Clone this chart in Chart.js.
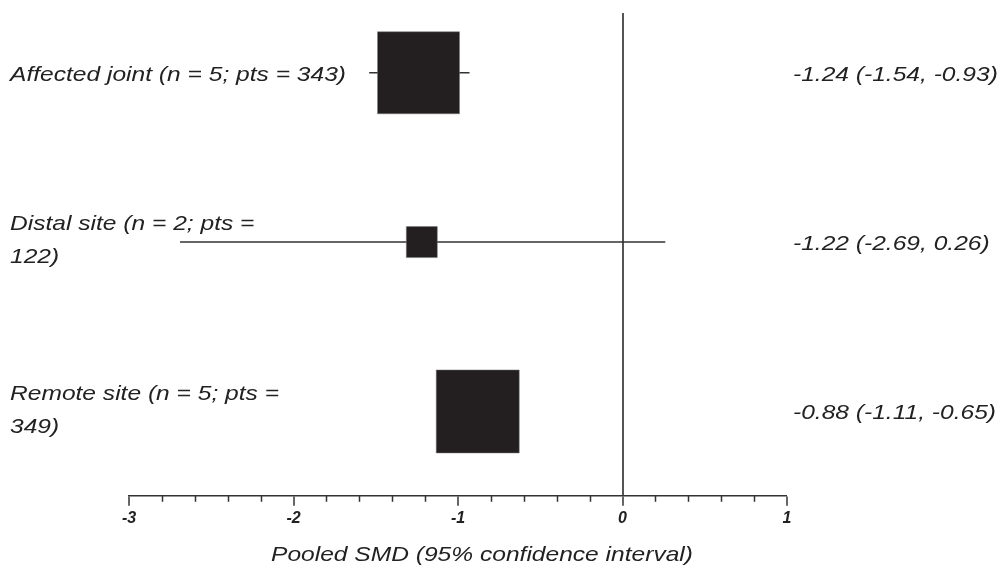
<!DOCTYPE html>
<html>
<head>
<meta charset="utf-8">
<script src="https://cdn.jsdelivr.net/npm/chart.js@4/dist/chart.umd.min.js"></script>
<style>
    html, body { margin: 0; padding: 0; background: #fff; }
    #wrap { width: 1003px; height: 568px; }
</style>
</head>
<body>
<div id="wrap"><canvas id="forestChart"></canvas></div>
<script>
// rows, top to bottom
const categories = [
    ['Affected joint (n = 5; pts = 343)'],
    ['Distal site (n = 2; pts =', '122)'],
    ['Remote site (n = 5; pts =', '349)']
];
const smd   = [-1.24, -1.22, -0.88];
const lower = [-1.54, -2.69, -1.11];
const upper = [-0.93, 0.26, -0.65];
const tickLabels = [-3, -2, -1, 0, 1];
const axisTitle = 'Pooled SMD (95% confidence interval)';

// box side in px (style only)
const boxSide = [82, 31, 83];

const ink = '#231f20';
const textFont = '"Liberation Sans", Arial, sans-serif';
const stretch = 1.17; // the original text is a bit wide

function rowY(i) {
    return categories.length - i;
}

// point datasets for the squares
const boxData = smd.map(function (v, i) { return { x: v, y: rowY(i) }; });

// one line dataset per confidence interval
const ciSets = lower.map(function (lo, i) {
    return {
        type: 'line',
        data: [{ x: lo, y: rowY(i) }, { x: upper[i], y: rowY(i) }],
        borderColor: '#333',
        borderWidth: 1.5,
        pointRadius: 0,
        order: 2
    };
});

function wideText(ctx, t, x, y, align) {
    ctx.save();
    ctx.translate(x, y);
    ctx.scale(stretch, 1);
    ctx.textAlign = align;
    ctx.fillText(t, 0, 0);
    ctx.restore();
}

// labels left, estimate text right, axis title
const rowText = {
    id: 'rowText',
    afterDatasetsDraw(chart) {
        const ctx = chart.ctx;
        const y = chart.scales.y;
        ctx.save();
        ctx.fillStyle = '#222';
        ctx.textBaseline = 'middle';
        ctx.font = 'italic 21px ' + textFont;
        categories.forEach(function (lines, i) {
            const py = y.getPixelForValue(rowY(i));
            const lh = 33;
            const start = py - (lines.length - 1) * lh / 2 + (lines.length > 1 ? -1 : 2);
            lines.forEach(function (t, k) {
                wideText(ctx, t, 10, start + k * lh, 'left');
            });
            const est = smd[i].toFixed(2) + ' (' + lower[i].toFixed(2) + ', ' + upper[i].toFixed(2) + ')';
            wideText(ctx, est, 793, py + 2, 'left');
        });
        const a = chart.chartArea;
        wideText(ctx, axisTitle, (a.left + a.right) / 2 + 24, 555, 'center');
        ctx.restore();
    }
};

// short minor ticks every 0.2
const minorTicks = {
    id: 'minorTicks',
    afterDraw(chart) {
        const x = chart.scales.x;
        const ctx = chart.ctx;
        const base = chart.chartArea.bottom;
        ctx.save();
        ctx.strokeStyle = '#333';
        ctx.lineWidth = 1.5;
        for (let k = 0; k <= 20; k++) {
            if (k % 5 === 0) continue;
            const px = Math.round(x.getPixelForValue(-3 + k * 0.2)) + 0.5;
            ctx.beginPath();
            ctx.moveTo(px, base);
            ctx.lineTo(px, base + 6);
            ctx.stroke();
        }
        ctx.restore();
    }
};

const ctx = document.getElementById('forestChart').getContext('2d');
const forestChart = new Chart(ctx, {
    type: 'scatter',
    data: {
        datasets: [{
            data: boxData,
            pointStyle: 'rect',
            pointRadius: boxSide.map(function (s) { return s / Math.SQRT2; }),
            pointHoverRadius: boxSide.map(function (s) { return s / Math.SQRT2; }),
            backgroundColor: ink,
            borderColor: '#777',
            borderWidth: 0.5,
            order: 1
        }].concat(ciSets)
    },
    plugins: [rowText, minorTicks],
    options: {
        responsive: true,
        maintainAspectRatio: false,
        animation: false,
        layout: {
            autoPadding: false,
            padding: { left: 129, right: 216, top: 13, bottom: 37 }
        },
        plugins: {
            legend: { display: false },
            tooltip: { enabled: false }
        },
        scales: {
            x: {
                type: 'linear',
                min: tickLabels[0],
                max: tickLabels[tickLabels.length - 1],
                afterBuildTicks: function (axis) {
                    axis.ticks = tickLabels.map(function (v) { return { value: v }; });
                },
                ticks: {
                    color: '#222',
                    padding: 3,
                    font: { family: textFont, size: 16, style: 'italic', weight: 'bold' },
                    maxRotation: 0
                },
                grid: {
                    drawOnChartArea: true,
                    tickLength: 10,
                    tickColor: '#333',
                    tickWidth: 1.5,
                    color: function (c) { return c.tick && c.tick.value === 0 ? '#555' : 'transparent'; },
                    lineWidth: function (c) { return c.tick && c.tick.value === 0 ? 2 : 0; }
                },
                border: { display: true, color: '#333', width: 1.5 },
                title: { display: false }
            },
            y: {
                type: 'linear',
                display: false,
                min: 0.502,
                max: 3.353
            }
        }
    }
});
</script>
</body>
</html>
